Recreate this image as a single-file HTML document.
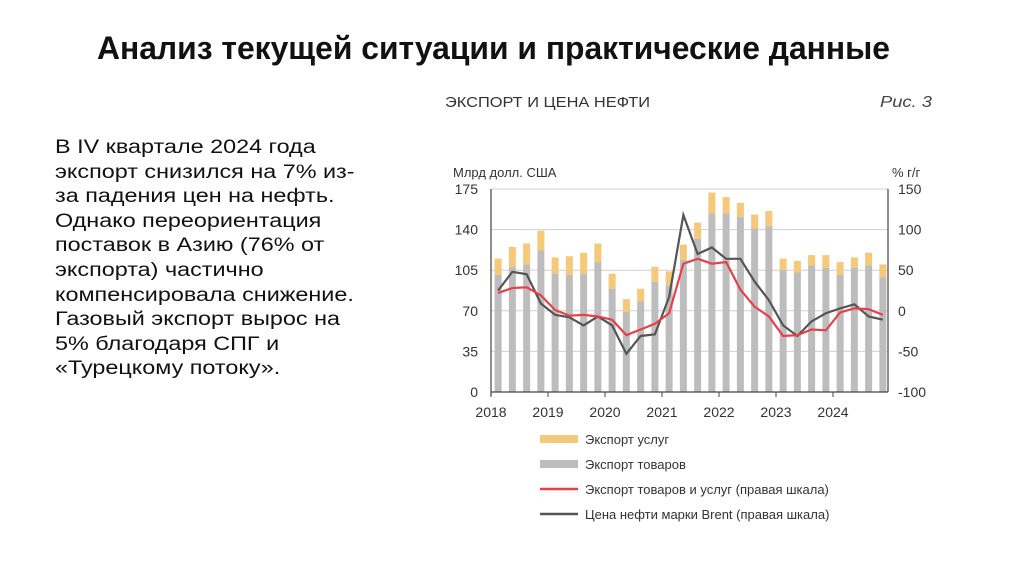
<!DOCTYPE html>
<html><head><meta charset="utf-8">
<style>
body{margin:0;background:#fff;width:1024px;height:574px;overflow:hidden;font-family:"Liberation Sans",sans-serif;}
svg{position:absolute;left:0;top:0}
.body-text{position:absolute;left:55px;top:136px;width:300px;font-size:19px;line-height:24.6px;color:#111;white-space:nowrap;transform:scaleX(1.23);transform-origin:0 0;}
</style></head><body>
<svg width="1024" height="574">
<text x="97" y="59" font-family="Liberation Sans Narrow, Liberation Sans, sans-serif" font-weight="bold" font-size="32" textLength="793" lengthAdjust="spacingAndGlyphs" fill="#111">Анализ текущей ситуации и практические данные</text>
<text x="445" y="107" font-size="15" textLength="205" lengthAdjust="spacingAndGlyphs" fill="#333">ЭКСПОРТ И ЦЕНА НЕФТИ</text>
<text x="880" y="107" font-size="16" font-style="italic" textLength="52" lengthAdjust="spacingAndGlyphs" fill="#444">Рис. 3</text>
<text x="453" y="177" font-size="13" fill="#333">Млрд долл. США</text>
<text x="892" y="177" font-size="13" fill="#333">% г/г</text>
<g id="plot"></g>
<g id="legend">
<rect x="540" y="435" width="38" height="8" fill="#f5c87a"/><text x="585" y="444" font-size="13" fill="#333">Экспорт услуг</text>
<rect x="540" y="460" width="38" height="8" fill="#bdbdbd"/><text x="585" y="469" font-size="13" fill="#333">Экспорт товаров</text>
<line x1="540" y1="489" x2="578" y2="489" stroke="#e8404a" stroke-width="2.5"/><text x="585" y="494" font-size="13" fill="#333">Экспорт товаров и услуг (правая шкала)</text>
<line x1="540" y1="514" x2="578" y2="514" stroke="#555" stroke-width="2.5"/><text x="585" y="519" font-size="13" fill="#333">Цена нефти марки Brent (правая шкала)</text>
</g>
</svg>
<div class="body-text">В IV квартале 2024 года<br>экспорт снизился на 7% из-<br>за падения цен на нефть.<br>Однако переориентация<br>поставок в Азию (76% от<br>экспорта) частично<br>компенсировала снижение.<br>Газовый экспорт вырос на<br>5% благодаря СПГ и<br>«Турецкому потоку».</div>
<script>
const goods=[101,108,110,122,102,101,102,112,89,69,78,95,92,114,132,154,154,151,141,143,105,103,109,107,101,107,109,99];
const totals=[115,125,128,139,116,117,120,128,102,80,89,108,104,127,146,172,168,163,153,156,115,113,118,118,112,116,120,110];
const exportYoY=[22,28,29,19,1,-6,-5,-7,-11,-30,-23,-16,-3,58,64,58,60,26,5,-7,-31,-30,-23,-24,-2,3,2,-5];
const brentYoY=[25,48,45,9,-5,-8,-18,-7,-18,-53,-31,-29,17,118,70,78,64,64,36,13,-18,-31,-13,-3,3,8,-7,-11];
const leftTicks=[0,35,70,105,140,175];
const rightTicks=["-100","-50","0","50","100","150"];
const years=["2018","2019","2020","2021","2022","2023","2024"];
const NS="http://www.w3.org/2000/svg";
const g=document.getElementById('plot');
const x0=491,qw=14.25,yB=392,yT=189;
const yL=v=>yB-(v/175)*(yB-yT);
const yR=v=>yB-((v+100)/250)*(yB-yT);
const xq=i=>x0+(i+0.5)*qw;
function mk(t,a){const e=document.createElementNS(NS,t);for(const k in a)e.setAttribute(k,a[k]);g.appendChild(e);return e;}
leftTicks.forEach((v,i)=>{
 const l=mk('line',{x1:x0,x2:888,y1:yL(v),y2:yL(v),stroke:'#d0d0d0','stroke-width':1});
 
 
 const t=mk('text',{x:478,y:yL(v)+5,'font-size':14,'text-anchor':'end',fill:'#333'});t.textContent=v;
 
 
 const r=mk('text',{x:898,y:yL(v)+5,'font-size':14,fill:'#333'});r.textContent=rightTicks[i];
 
 
});
totals.forEach((t,i)=>{
 const s=mk('rect',{x:xq(i)-3.5,width:7,y:yL(t),height:yL(goods[i])-yL(t),fill:'#f5c87a'});
 
 
 const b=mk('rect',{x:xq(i)-3.5,width:7,y:yL(goods[i]),height:yB-yL(goods[i]),fill:'#bdbdbd'});
 
 
});
mk('line',{x1:x0,x2:x0,y1:yT,y2:yB+4,stroke:'#444','stroke-width':1.2});
mk('line',{x1:888,x2:888,y1:yT,y2:yB,stroke:'#444','stroke-width':1.2});
mk('line',{x1:x0,x2:888,y1:yB,y2:yB,stroke:'#444','stroke-width':1.2});
years.forEach((y,i)=>{
 const x=x0+i*4*qw;
 mk('line',{x1:x,x2:x,y1:yB,y2:yB+5,stroke:'#444'});
 const t=mk('text',{x:x,y:417,'font-size':14,'text-anchor':'middle',fill:'#333'});t.textContent=y;
 
 
});
const p1=mk('polyline',{points:brentYoY.map((v,i)=>xq(i)+','+yR(v)).join(' '),fill:'none',stroke:'#555','stroke-width':2.2});


const p2=mk('polyline',{points:exportYoY.map((v,i)=>xq(i)+','+yR(v)).join(' '),fill:'none',stroke:'#e8404a','stroke-width':2.2});


</script>
</body></html>
